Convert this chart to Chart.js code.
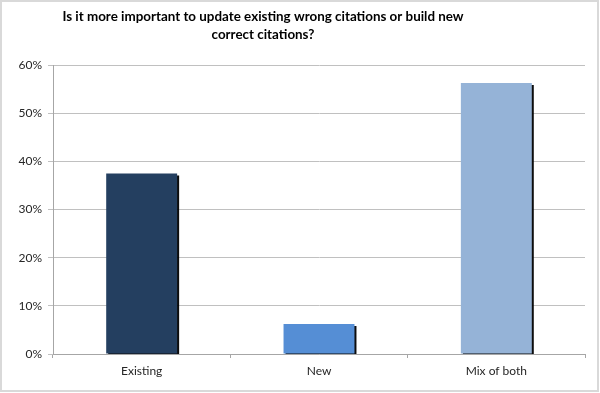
<!DOCTYPE html>
<html>
<head>
<meta charset="utf-8">
<script src="https://cdn.jsdelivr.net/npm/chart.js@4"></script>
<style>
  body { margin: 0; background: #fff; }
  #wrap { width: 600px; height: 393px; position: relative; }
</style>
</head>
<body>
<div id="wrap"><canvas id="chart"></canvas></div>
<script>
const categories = ["Existing", "New", "Mix of both"];
const shares = [37.5, 6.25, 56.25];
const barColors = ["#243f60", "#558ed5", "#95b3d7"];
const titleLines = ["Is it more important to update existing wrong citations or build new", "correct citations?"];

const fontFamily = "Lato, 'Open Sans', sans-serif";

// titre + cadre + ombre des barres
const decorPlugin = {
  id: "decor",
  beforeDatasetsDraw(chart) {
    const ctx = chart.ctx;
    ctx.save();
    ctx.shadowColor = "rgba(0,0,0,0.95)";
    ctx.shadowOffsetX = 2;
    ctx.shadowOffsetY = 2;
    ctx.shadowBlur = 0;
  },
  afterDatasetsDraw(chart) {
    chart.ctx.restore();
  },
  afterDraw(chart) {
    const ctx = chart.ctx;
    ctx.save();
    ctx.strokeStyle = "#d9d9d9";
    ctx.lineWidth = 2;
    ctx.strokeRect(1, 1, chart.width - 3, chart.height - 3);
    ctx.fillStyle = "#000";
    ctx.font = "bold 13.4px " + fontFamily;
    ctx.textAlign = "center";
    ctx.textBaseline = "alphabetic";
    ctx.fillText(titleLines[0], 263, 21);
    ctx.fillText(titleLines[1], 263, 39);
    ctx.restore();
  }
};

new Chart(document.getElementById("chart"), {
  type: "bar",
  data: {
    labels: categories,
    datasets: [{
      data: shares,
      backgroundColor: barColors,
      borderWidth: 0,
      categoryPercentage: 0.4,
      barPercentage: 1.0
    }]
  },
  options: {
    responsive: true,
    maintainAspectRatio: false,
    animation: false,
    layout: { padding: { top: 65, right: 15, left: 0, bottom: 0 } },
    plugins: {
      legend: { display: false },
      title: { display: false },
      tooltip: { enabled: false }
    },
    scales: {
      x: {
        afterFit: (scale) => { scale.height = 39; },
        grid: {
          offset: true,
          drawOnChartArea: false,
          tickLength: 4,
          color: "#a6a6a6"
        },
        border: { color: "#a6a6a6" },
        ticks: {
          color: "#262626",
          padding: 6,
          font: { family: fontFamily, size: 12 }
        }
      },
      y: {
        min: 0,
        max: 60,
        afterFit: (scale) => { scale.width = 53; },
        grid: { color: "#c0c0c0", tickLength: 5 },
        border: { color: "#a6a6a6" },
        ticks: {
          stepSize: 10,
          color: "#262626",
          padding: 6,
          font: { family: fontFamily, size: 12 },
          callback: (v) => v + "%"
        }
      }
    }
  },
  plugins: [decorPlugin]
});
</script>
</body>
</html>
